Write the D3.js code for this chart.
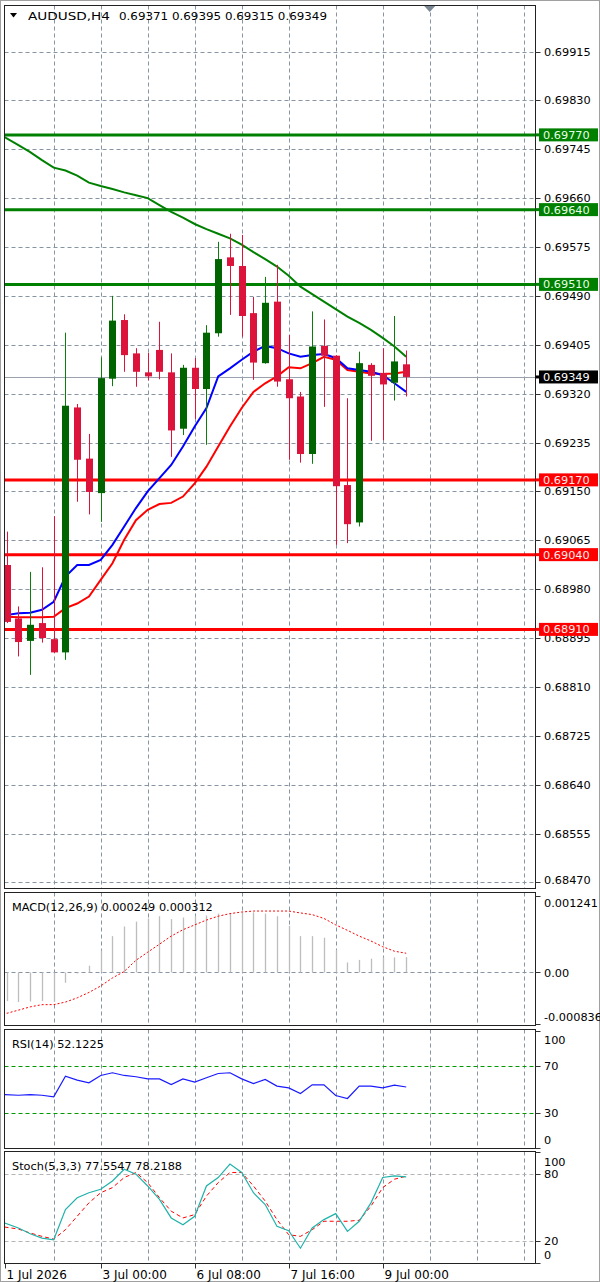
<!DOCTYPE html>
<html>
<head>
<meta charset="utf-8">
<script src="https://cdn.jsdelivr.net/npm/d3@7"></script>
<style>
  body { margin: 0; background: #fff; }
  svg { display: block; font-family: "DejaVu Sans", sans-serif; font-size: 11.3px; }
</style>
</head>
<body>
<svg id="chart" width="600" height="1282"></svg>
<script>
// # Data #
const symbolName = 'AUDUSD,H4';
const symbolQuotes = '0.69371 0.69395 0.69315 0.69349';
const lastPrice = 0.69349;

const opens  = [0.69022, 0.68929, 0.68890, 0.68921, 0.68893, 0.68870, 0.69296, 0.69207, 0.69147, 0.69346,
                0.69448, 0.69390, 0.69357, 0.69396, 0.69357, 0.69259, 0.69365, 0.69328, 0.69425, 0.69557,
                0.69542, 0.69460, 0.69373, 0.69480, 0.69345, 0.69315, 0.69215, 0.69403, 0.69386, 0.69161,
                0.69096, 0.69370, 0.69356, 0.69339, 0.69371];
const highs  = [0.69080, 0.68950, 0.69010, 0.69018, 0.69107, 0.69426, 0.69302, 0.69250, 0.69383, 0.69490,
                0.69458, 0.69399, 0.69391, 0.69445, 0.69390, 0.69370, 0.69382, 0.69439, 0.69584, 0.69598,
                0.69596, 0.69488, 0.69523, 0.69544, 0.69422, 0.69323, 0.69463, 0.69449, 0.69387, 0.69312,
                0.69393, 0.69373, 0.69399, 0.69455, 0.69395];
const lows   = [0.68921, 0.68863, 0.68831, 0.68887, 0.68869, 0.68857, 0.69132, 0.69110, 0.69097, 0.69333,
                0.69358, 0.69332, 0.69343, 0.69345, 0.69210, 0.69248, 0.69276, 0.69231, 0.69419, 0.69457,
                0.69419, 0.69344, 0.69372, 0.69332, 0.69205, 0.69200, 0.69198, 0.69297, 0.69057, 0.69060,
                0.69089, 0.69238, 0.69239, 0.69308, 0.69315];
const closes = [0.68923, 0.68888, 0.68918, 0.68895, 0.68870, 0.69299, 0.69205, 0.69149, 0.69347, 0.69447,
                0.69387, 0.69358, 0.69350, 0.69358, 0.69256, 0.69365, 0.69328, 0.69426, 0.69554, 0.69542,
                0.69455, 0.69374, 0.69478, 0.69341, 0.69312, 0.69215, 0.69402, 0.69386, 0.69159, 0.69093,
                0.69373, 0.69351, 0.69336, 0.69376, 0.69349];

// moving averages (blue / red / green)
const maFast = [0.68935, 0.68938, 0.68939, 0.68944, 0.68958, 0.69002, 0.69022, 0.69022, 0.69031, 0.69057,
                0.69089, 0.69121, 0.69150, 0.69173, 0.69196, 0.69228, 0.69263, 0.69295, 0.69350, 0.69364,
                0.69379, 0.69393, 0.69403, 0.69399, 0.69390, 0.69384, 0.69387, 0.69389, 0.69382, 0.69364,
                0.69361, 0.69358, 0.69352, 0.69338, 0.69323];
const maSlow = [0.68932, 0.68931, 0.68931, 0.68931, 0.68932, 0.68947, 0.68955, 0.68967, 0.68996, 0.69025,
                0.69066, 0.69100, 0.69118, 0.69128, 0.69130, 0.69141, 0.69164, 0.69193, 0.69228, 0.69263,
                0.69295, 0.69323, 0.69338, 0.69350, 0.69366, 0.69364, 0.69373, 0.69384, 0.69379, 0.69361,
                0.69358, 0.69355, 0.69354, 0.69355, 0.69358];
const maLong = [0.69766, 0.69752, 0.69740, 0.69726, 0.69713, 0.69708, 0.69699, 0.69687, 0.69681, 0.69676,
                0.69670, 0.69665, 0.69660, 0.69648, 0.69636, 0.69626, 0.69615, 0.69606, 0.69598, 0.69590,
                0.69579, 0.69566, 0.69554, 0.69541, 0.69525, 0.69506, 0.69493, 0.69480, 0.69467, 0.69454,
                0.69443, 0.69431, 0.69417, 0.69402, 0.69384];

const resistanceLevels = [0.69770, 0.69640, 0.69510];
const supportLevels = [0.69170, 0.69040, 0.68910];

const priceTicks = [0.69915, 0.69830, 0.69745, 0.69660, 0.69575, 0.69490, 0.69405, 0.69320, 0.69235,
                    0.69150, 0.69065, 0.68980, 0.68895, 0.68810, 0.68725, 0.68640, 0.68555, 0.68470];

const dateLabels = ['1 Jul 2026', '3 Jul 00:00', '6 Jul 08:00', '7 Jul 16:00', '9 Jul 00:00'];
const dateBars = [0, 8, 16, 24, 32];

// MACD(12,26,9)
const macdHist = [-0.000464, -0.000480, -0.000470, -0.000464, -0.000470, -0.000167, -0.000016, 0.000110, 0.000355, 0.000590,
                  0.000746, 0.000825, 0.000877, 0.000913, 0.000866, 0.000892, 0.000913, 0.000924, 0.000955, 0.000966,
                  0.000976, 0.000976, 0.000955, 0.000913, 0.000757, 0.000590, 0.000590, 0.000564, 0.000365, 0.000162,
                  0.000204, 0.000224, 0.000245, 0.000245, 0.000249];
const macdSignal = [-0.000663, -0.000611, -0.000558, -0.000522, -0.000522, -0.000480, -0.000412, -0.000324, -0.000219, -0.000089,
                    0.000016, 0.000198, 0.000329, 0.000459, 0.000590, 0.000694, 0.000772, 0.000851, 0.000913, 0.000955,
                    0.000981, 0.000997, 0.000997, 0.000997, 0.000997, 0.000966, 0.000939, 0.000877, 0.000772, 0.000684,
                    0.000590, 0.000511, 0.000418, 0.000345, 0.000312];
const macdTicks = [0.001241, 0, -0.000836];
const macdTickLabels = ['0.001241', '0.00', '-0.000836'];

// RSI(14)
const rsiValues = [45.7, 45.1, 45.7, 45.1, 43.7, 61.4, 58.0, 55.7, 62.0, 64.3,
                   62.0, 60.9, 59.1, 59.1, 54.3, 59.1, 56.3, 60.0, 63.7, 64.3,
                   59.1, 55.1, 58.6, 52.9, 51.4, 46.6, 54.0, 54.0, 44.9, 42.3,
                   52.9, 52.9, 51.4, 53.7, 52.12];
const rsiTicks = [100, 70, 30, 0];

// Stoch(5,3,3)
const stochK = [36.1, 31.5, 26.4, 22.4, 20.9, 48.2, 58.8, 63.3, 66.4, 73.9,
                84.5, 80.0, 69.4, 57.3, 40.6, 34.5, 42.1, 69.4, 77.0, 89.1,
                81.5, 63.3, 52.7, 33.0, 29.1, 13.3, 31.5, 39.1, 44.5, 28.5,
                37.6, 54.2, 77.0, 78.5, 77.55];
const stochD = [32.4, 30.6, 27.0, 24.0, 21.5, 30.0, 42.1, 54.2, 63.3, 67.9,
                77.0, 81.5, 72.4, 58.8, 46.7, 40.6, 43.6, 60.3, 72.4, 81.5,
                81.5, 69.4, 55.8, 39.1, 25.5, 24.0, 30.0, 37.6, 37.6, 37.6,
                38.5, 51.2, 67.9, 75.5, 78.22];
const stochTicks = [100, 80, 20, 0];
// # Data # END

const svg = d3.select('#chart');

const frameLeft = 4.5;
const frameRight = 535.5;
const panels = {
  main:  { top: 5.5,    bottom: 888.5 },
  macd:  { top: 892.5,  bottom: 1025.5 },
  rsi:   { top: 1029.5, bottom: 1148.5 },
  stoch: { top: 1151.5, bottom: 1263.5 }
};

const gridColor = '#8795a3';
const bullColor = '#006400';
const bullWick = '#0a7d0a';
const bearColor = '#dc143c';

// x : one bar every 11.75 px, grid every 4 bars
const x = d3.scaleLinear().domain([0, 44]).range([6.7, 523.7]);
const gridBars = d3.range(4, 45, 4);

const yMain = d3.scaleLinear().domain([0.68470, 0.69915]).range([882.4, 51.5]);
const yMacd = d3.scaleLinear().domain([-0.000836, 0.001241]).range([1024, 896]);
const yRsi = d3.scaleLinear().domain([0, 100]).range([1148, 1031]);
const yStoch = d3.scaleLinear().domain([0, 100]).range([1263, 1152]);

// outer window border
svg.append('rect').attr('x', 0.5).attr('y', 0.5).attr('width', 599).attr('height', 1281)
  .attr('fill', 'none').attr('stroke', '#a0a0a0');

// clip paths for each panel
const defs = svg.append('defs');
Object.entries(panels).forEach(([name, p]) => {
  defs.append('clipPath').attr('id', 'clip-' + name)
    .append('rect')
    .attr('x', frameLeft + 0.5).attr('y', p.top + 0.5)
    .attr('width', frameRight - frameLeft - 1).attr('height', p.bottom - p.top - 1);
});

function panelGroup(name) {
  return svg.append('g').attr('clip-path', `url(#clip-${name})`);
}

function vGrid(g, p) {
  g.selectAll('line.vgrid').data(gridBars).join('line')
    .attr('class', 'vgrid')
    .attr('x1', d => Math.round(x(d)) + 0.5).attr('x2', d => Math.round(x(d)) + 0.5)
    .attr('y1', p.top).attr('y2', p.bottom)
    .attr('stroke', gridColor).attr('stroke-dasharray', '4,3');
}

function hLine(g, y, color, dash) {
  g.append('line')
    .attr('x1', frameLeft).attr('x2', frameRight)
    .attr('y1', Math.round(y) + 0.5).attr('y2', Math.round(y) + 0.5)
    .attr('stroke', color).attr('stroke-dasharray', dash);
}

function axisLabel(y, text, p) {
  const yy = Math.max(p.top + 10, Math.min(p.bottom - 9, y));
  svg.append('line')
    .attr('x1', frameRight).attr('x2', frameRight + 5)
    .attr('y1', Math.round(y) + 0.5).attr('y2', Math.round(y) + 0.5)
    .attr('stroke', '#333');
  svg.append('text').attr('x', 544).attr('y', yy).attr('dy', '0.36em')
    .attr('fill', '#000').text(text);
}

function frame(p) {
  svg.append('rect')
    .attr('x', frameLeft).attr('y', p.top)
    .attr('width', frameRight - frameLeft).attr('height', p.bottom - p.top)
    .attr('fill', 'none').attr('stroke', '#222');
}

// # Main panel #
const gMain = panelGroup('main');
vGrid(gMain, panels.main);
priceTicks.forEach(t => hLine(gMain, yMain(t), gridColor, '4,3'));

// current price line
hLine(gMain, yMain(lastPrice), '#9aa3ad', null);

// levels
resistanceLevels.forEach(l => {
  gMain.append('line').attr('x1', frameLeft).attr('x2', frameRight)
    .attr('y1', yMain(l)).attr('y2', yMain(l))
    .attr('stroke', '#008000').attr('stroke-width', 3);
});
supportLevels.forEach(l => {
  gMain.append('line').attr('x1', frameLeft).attr('x2', frameRight)
    .attr('y1', yMain(l)).attr('y2', yMain(l))
    .attr('stroke', '#ff0000').attr('stroke-width', 3);
});

// moving averages
const maLine = d3.line().x((d, i) => x(i)).y(d => yMain(d));
gMain.append('path').attr('d', d3.line().x((d, i) => i === 0 ? frameLeft : x(i)).y(d => yMain(d))(maLong))
  .attr('fill', 'none').attr('stroke', '#008000').attr('stroke-width', 2);
gMain.append('path').attr('d', maLine(maSlow))
  .attr('fill', 'none').attr('stroke', '#ff0000').attr('stroke-width', 2);
gMain.append('path').attr('d', maLine(maFast))
  .attr('fill', 'none').attr('stroke', '#0000ff').attr('stroke-width', 2);

// candles
const bars = d3.range(opens.length);
const candles = gMain.selectAll('g.candle').data(bars).join('g').attr('class', 'candle');
candles.append('line')
  .attr('x1', i => Math.round(x(i)) + 0.5).attr('x2', i => Math.round(x(i)) + 0.5)
  .attr('y1', i => yMain(highs[i])).attr('y2', i => yMain(lows[i]))
  .attr('stroke', i => closes[i] >= opens[i] ? bullWick : bearColor);
candles.append('rect')
  .attr('x', i => Math.round(x(i)) - 3)
  .attr('width', 7)
  .attr('y', i => yMain(Math.max(opens[i], closes[i])))
  .attr('height', i => Math.max(1, Math.abs(yMain(opens[i]) - yMain(closes[i]))))
  .attr('fill', i => closes[i] >= opens[i] ? bullColor : bearColor);

frame(panels.main);

// title
svg.append('path').attr('d', 'M10,13 L17,13 L13.5,17.5 Z').attr('fill', '#000');
svg.append('text').attr('x', 28).attr('y', 20).attr('fill', '#000')
  .attr('textLength', 82).attr('lengthAdjust', 'spacingAndGlyphs').text(symbolName);
svg.append('text').attr('x', 119).attr('y', 20).attr('fill', '#000')
  .attr('textLength', 208).attr('lengthAdjust', 'spacingAndGlyphs').text(symbolQuotes);

// chart shift marker
svg.append('path').attr('d', `M${x(36) - 5.5},6 L${x(36) + 5.5},6 L${x(36)},12 Z`).attr('fill', '#7a8794');

// price axis
priceTicks.forEach(t => axisLabel(yMain(t), t.toFixed(5), panels.main));

function levelBox(v, fill, textColor) {
  const y = yMain(v);
  svg.append('line').attr('x1', frameRight).attr('x2', 540).attr('y1', y).attr('y2', y)
    .attr('stroke', fill).attr('stroke-width', 3);
  svg.append('rect').attr('x', 539).attr('y', y - 6.5).attr('width', 59).attr('height', 13).attr('fill', fill);
  svg.append('text').attr('x', 543).attr('y', y).attr('dy', '0.36em').attr('fill', textColor).text(v.toFixed(5));
}
resistanceLevels.forEach(l => levelBox(l, '#008000', '#e6ffe6'));
supportLevels.forEach(l => levelBox(l, '#ff0000', '#ffeaea'));
levelBox(lastPrice, '#000', '#fff');
// # Main panel # END

// # MACD #
const gMacd = panelGroup('macd');
vGrid(gMacd, panels.macd);
hLine(gMacd, yMacd(0), gridColor, '4,3');
gMacd.selectAll('line.hist').data(macdHist).join('line')
  .attr('class', 'hist')
  .attr('x1', (d, i) => Math.round(x(i)) + 0.5).attr('x2', (d, i) => Math.round(x(i)) + 0.5)
  .attr('y1', yMacd(0)).attr('y2', d => yMacd(d))
  .attr('stroke', '#bdbdbd').attr('stroke-width', 1.3);
gMacd.append('path').attr('d', d3.line().x((d, i) => x(i)).y(d => yMacd(d))(macdSignal))
  .attr('fill', 'none').attr('stroke', '#ff0000').attr('stroke-dasharray', '2,2');
frame(panels.macd);
svg.append('text').attr('x', 12).attr('y', 911).text('MACD(12,26,9) 0.000249 0.000312');
macdTicks.forEach((t, i) => axisLabel(yMacd(t), macdTickLabels[i], panels.macd));
// # MACD # END

// # RSI #
const gRsi = panelGroup('rsi');
vGrid(gRsi, panels.rsi);
[70, 30].forEach(v => hLine(gRsi, yRsi(v), '#009900', '4,3'));
gRsi.append('path').attr('d', d3.line().x((d, i) => i === 0 ? frameLeft : x(i)).y(d => yRsi(d))(rsiValues))
  .attr('fill', 'none').attr('stroke', '#1a1aff').attr('stroke-width', 1.2);
frame(panels.rsi);
svg.append('text').attr('x', 12).attr('y', 1048).text('RSI(14) 52.1225');
rsiTicks.forEach(t => axisLabel(yRsi(t), String(t), panels.rsi));
// # RSI # END

// # Stoch #
const gStoch = panelGroup('stoch');
vGrid(gStoch, panels.stoch);
[80, 20].forEach(v => hLine(gStoch, yStoch(v), '#b4b4b4', '4,3'));
gStoch.append('path').attr('d', d3.line().x((d, i) => i === 0 ? frameLeft : x(i)).y(d => yStoch(d))(stochD))
  .attr('fill', 'none').attr('stroke', '#ff0000').attr('stroke-dasharray', '4,3');
gStoch.append('path').attr('d', d3.line().x((d, i) => i === 0 ? frameLeft : x(i)).y(d => yStoch(d))(stochK))
  .attr('fill', 'none').attr('stroke', '#20b2aa').attr('stroke-width', 1.2);
frame(panels.stoch);
svg.append('text').attr('x', 12).attr('y', 1170).text('Stoch(5,3,3) 77.5547 78.2188');
stochTicks.forEach(t => axisLabel(yStoch(t), String(t), panels.stoch));
// # Stoch # END

// # Time axis #
dateBars.forEach((b, i) => {
  const xx = b === 0 ? frameLeft + 1 : Math.round(x(b)) + 0.5;
  svg.append('line').attr('x1', xx).attr('x2', xx)
    .attr('y1', panels.stoch.bottom).attr('y2', panels.stoch.bottom + 5)
    .attr('stroke', '#333');
  svg.append('text').attr('x', xx + 1).attr('y', 1279).style('font-size', '12px').text(dateLabels[i]);
});
// # Time axis # END
</script>
</body>
</html>
